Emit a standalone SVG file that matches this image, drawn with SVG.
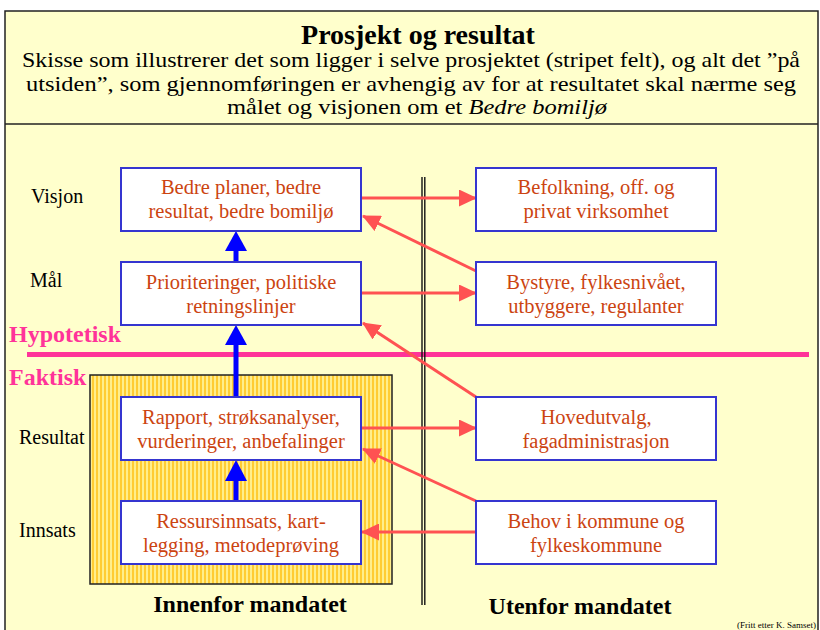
<svg xmlns="http://www.w3.org/2000/svg" width="820" height="630" viewBox="0 0 820 630">
<style>
text{font-family:'Liberation Serif','Times New Roman','DejaVu Serif',serif}
.frame{fill:#FFFFCC;stroke:#222;stroke-width:1.5}
.title{font-weight:bold;font-size:28px;fill:#000;text-anchor:middle}
.sub{font-size:22px;fill:#000;text-anchor:middle}
.row{font-size:20px;fill:#000}
.pink{font-weight:bold;font-size:24px;fill:#FF3399}
.box{fill:#FFFFFF;stroke:#3535D0;stroke-width:2}
.nt{font-size:20.5px;fill:#CC4411;text-anchor:middle}
.foot{font-weight:bold;font-size:24px;fill:#000;text-anchor:middle}
.red{stroke:#FF5252;stroke-width:3;fill:none;marker-end:url(#rh)}
.blue{stroke:#0000FF;stroke-width:5}
.bh{fill:#0000FF}
.dbl{stroke:#111;stroke-width:1.4}
</style>
<defs>
<pattern id="stripes" width="4" height="4" patternUnits="userSpaceOnUse">
<rect width="4" height="4" fill="#FFEE8C"/>
<rect width="2" height="4" fill="#FFCC33"/>
</pattern>
<marker id="rh" markerWidth="18" markerHeight="17" refX="17" refY="8.5" orient="auto" markerUnits="userSpaceOnUse">
<path d="M0,0 L18,8.5 L0,17 Z" fill="#FF5252"/>
</marker>
</defs>
<rect x="0" y="0" width="820" height="630" fill="#FFFFFF"/>
<rect class="frame" x="5" y="11" width="813" height="640"/>
<line x1="5" y1="124" x2="818" y2="124" stroke="#222" stroke-width="1.5"/>

<g id="header">
<text class="title" x="418" y="44">Prosjekt og resultat</text>
<text class="sub" x="411" y="67" textLength="778" lengthAdjust="spacingAndGlyphs">Skisse som illustrerer det som ligger i selve prosjektet (stripet felt), og alt det ”på</text>
<text class="sub" x="411" y="90.5" textLength="770" lengthAdjust="spacingAndGlyphs">utsiden”, som gjennomføringen er avhengig av for at resultatet skal nærme seg</text>
<text class="sub" x="417" y="114" textLength="380" lengthAdjust="spacingAndGlyphs">målet og visjonen om et <tspan font-style="italic">Bedre bomiljø</tspan></text>
</g>

<g id="labels">
<text class="row" x="31" y="203">Visjon</text>
<text class="row" x="30" y="287">Mål</text>
<text class="row" x="19" y="444">Resultat</text>
<text class="row" x="19" y="537">Innsats</text>
<text class="pink" x="9" y="342">Hypotetisk</text>
<text class="pink" x="9" y="385">Faktisk</text>
</g>

<line x1="27" y1="354.5" x2="809" y2="354.5" stroke="#FF3399" stroke-width="5"/>

<rect id="mandate" x="90" y="375" width="302" height="209" fill="url(#stripes)" stroke="#222" stroke-width="1.5"/>

<g id="divider">
<line class="dbl" x1="422" y1="177" x2="422" y2="605"/>
<line class="dbl" x1="424.8" y1="177" x2="424.8" y2="605"/>
</g>

<g id="connectors">
<line class="blue" x1="236" y1="249" x2="236" y2="262"/>
<polygon class="bh" points="236,231 225,251 247,251"/>
<line class="blue" x1="236" y1="343" x2="236" y2="397"/>
<polygon class="bh" points="236,325 225,345 247,345"/>
<line class="blue" x1="236" y1="478" x2="236" y2="501"/>
<polygon class="bh" points="236,460 225,481 247,481"/>
<line class="red" x1="362" y1="198" x2="476" y2="198"/>
<line class="red" x1="362" y1="293" x2="476" y2="293"/>
<line class="red" x1="362" y1="428" x2="476" y2="428"/>
<line class="red" x1="476" y1="532" x2="362" y2="532"/>
<line class="red" x1="476" y1="271" x2="363" y2="216"/>
<line class="red" x1="476" y1="397" x2="363" y2="323"/>
<line class="red" x1="476" y1="501" x2="363" y2="449"/>
</g>

<g id="n-visjon">
<rect class="box" x="121" y="168" width="240" height="63"/>
<text class="nt" x="241" y="194">Bedre planer, bedre</text>
<text class="nt" x="241" y="218">resultat, bedre bomiljø</text>
</g>
<g id="n-maal">
<rect class="box" x="121" y="262" width="240" height="63"/>
<text class="nt" x="241" y="289">Prioriteringer, politiske</text>
<text class="nt" x="241" y="313">retningslinjer</text>
</g>
<g id="n-resultat">
<rect class="box" x="121" y="397" width="240" height="63"/>
<text class="nt" x="241" y="424">Rapport, strøksanalyser,</text>
<text class="nt" x="241" y="448">vurderinger, anbefalinger</text>
</g>
<g id="n-innsats">
<rect class="box" x="121" y="501" width="240" height="63"/>
<text class="nt" x="241" y="528">Ressursinnsats, kart-</text>
<text class="nt" x="241" y="552">legging, metodeprøving</text>
</g>
<g id="n-befolkning">
<rect class="box" x="476" y="168" width="240" height="63"/>
<text class="nt" x="596" y="194">Befolkning, off. og</text>
<text class="nt" x="596" y="218">privat virksomhet</text>
</g>
<g id="n-bystyre">
<rect class="box" x="476" y="262" width="240" height="63"/>
<text class="nt" x="596" y="289">Bystyre, fylkesnivået,</text>
<text class="nt" x="596" y="313">utbyggere, regulanter</text>
</g>
<g id="n-hovedutvalg">
<rect class="box" x="476" y="397" width="240" height="63"/>
<text class="nt" x="596" y="424">Hovedutvalg,</text>
<text class="nt" x="596" y="448">fagadministrasjon</text>
</g>
<g id="n-behov">
<rect class="box" x="476" y="501" width="240" height="63"/>
<text class="nt" x="596" y="528">Behov i kommune og</text>
<text class="nt" x="596" y="552">fylkeskommune</text>
</g>

<g id="footer">
<text class="foot" x="250" y="612">Innenfor mandatet</text>
<text class="foot" x="580" y="614">Utenfor mandatet</text>
<text x="816" y="628" font-size="9px" text-anchor="end" fill="#000">(Fritt etter K. Samset)</text>
</g>
</svg>
